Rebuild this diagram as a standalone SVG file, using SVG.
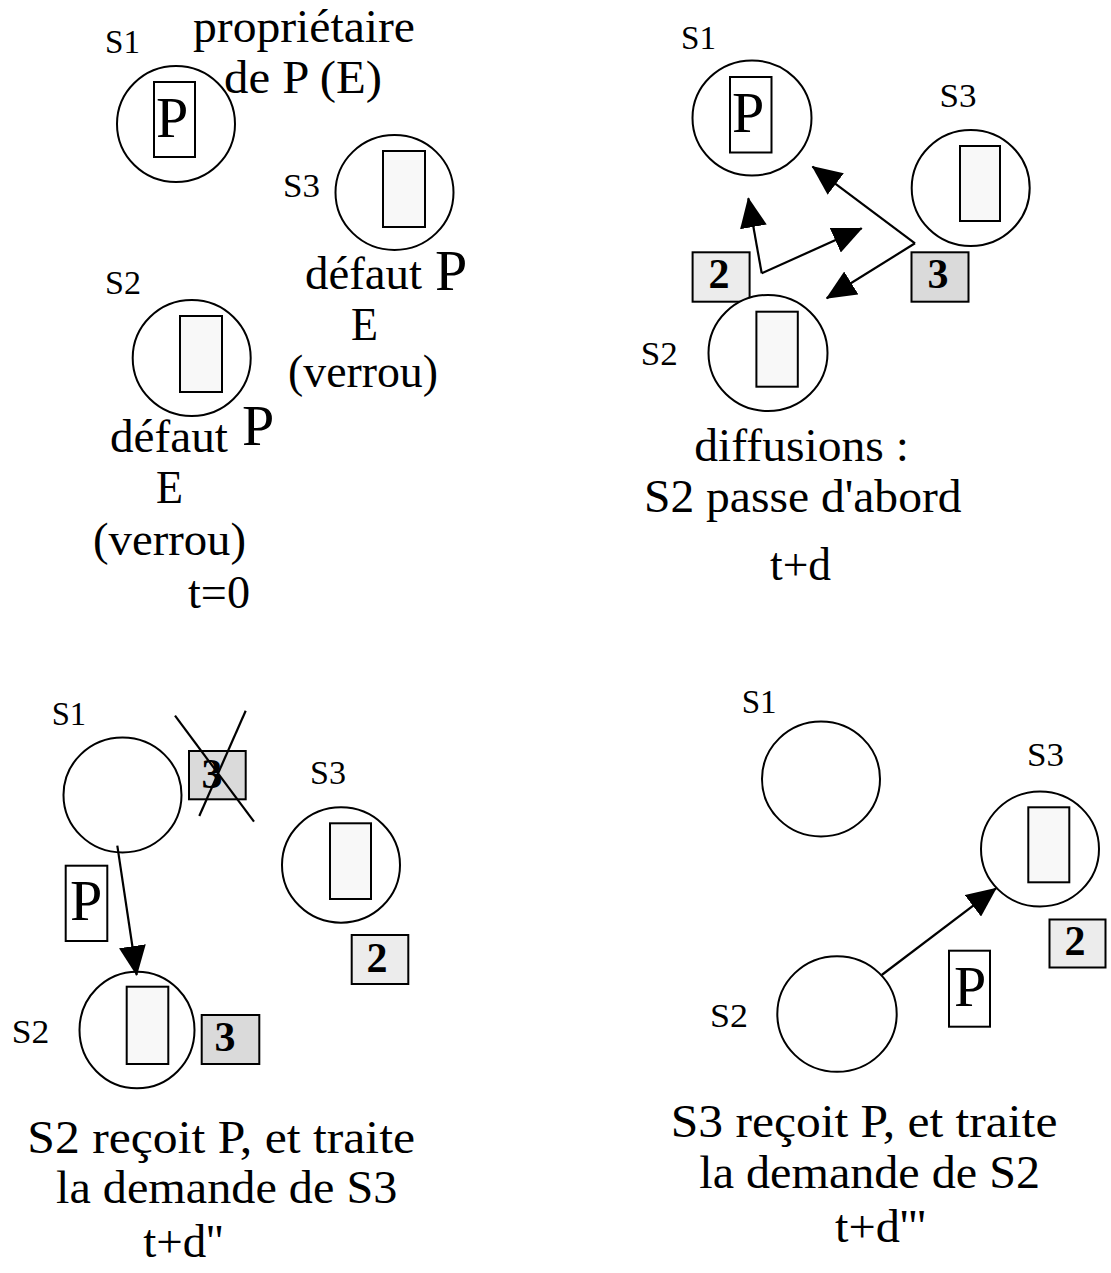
<svg xmlns="http://www.w3.org/2000/svg" width="1111" height="1273" viewBox="0 0 1111 1273">
<style>
  text { font-family: "Liberation Serif", "Times New Roman", serif; fill: #000; }
  .lbl { font-size: 34px; }
  .big { font-size: 46px; }
  .P { font-size: 58px; }
  .num { font-size: 42px; font-weight: bold; text-anchor: middle; }
  .site { fill: #fff; stroke: #000; stroke-width: 2; }
  .slot { fill: #f8f8f8; stroke: #000; stroke-width: 2; }
  .pbox { fill: #fff; stroke: #000; stroke-width: 2; }
  .req2 { fill: #ececec; stroke: #000; stroke-width: 2; }
  .req3 { fill: #dadada; stroke: #000; stroke-width: 2; }
  .conn { stroke: #000; stroke-width: 2.2; fill: none; }
</style>
<defs>
  <marker id="ah" markerUnits="userSpaceOnUse" markerWidth="30" markerHeight="27" refX="29" refY="13.5" orient="auto">
    <path d="M0,0 L30,13.5 L0,27 z" fill="#000"/>
  </marker>
</defs>
<rect width="1111" height="1273" fill="#fff"/>

<!-- Panel 1: t=0 -->
<g id="p1-s1">
  <text class="lbl" x="105" y="53" textLength="35" lengthAdjust="spacingAndGlyphs">S1</text>
  <ellipse class="site" cx="176" cy="124" rx="59" ry="58"/>
  <rect class="pbox" x="154" y="82" width="41" height="75"/>
  <text class="P" x="156" y="137">P</text>
</g>
<g id="p1-owner-label">
  <text class="big" x="193" y="42" textLength="222" lengthAdjust="spacingAndGlyphs">propriétaire</text>
  <text class="big" x="224" y="93" textLength="158" lengthAdjust="spacingAndGlyphs">de P (E)</text>
</g>
<g id="p1-s3">
  <text class="lbl" x="283" y="197" textLength="37" lengthAdjust="spacingAndGlyphs">S3</text>
  <ellipse class="site" cx="394.5" cy="192.5" rx="59" ry="57.5"/>
  <rect class="slot" x="383" y="151" width="42" height="76"/>
  <text class="big" x="305" y="289" textLength="117" lengthAdjust="spacingAndGlyphs">défaut</text>
  <text class="P" x="435" y="290">P</text>
  <text class="big" x="351" y="340" textLength="27" lengthAdjust="spacingAndGlyphs">E</text>
  <text class="big" x="288" y="387" textLength="150" lengthAdjust="spacingAndGlyphs">(verrou)</text>
</g>
<g id="p1-s2">
  <text class="lbl" x="105" y="294" textLength="36" lengthAdjust="spacingAndGlyphs">S2</text>
  <ellipse class="site" cx="191.7" cy="358" rx="59" ry="58"/>
  <rect class="slot" x="180" y="316" width="42" height="76"/>
  <text class="big" x="110" y="452" textLength="118" lengthAdjust="spacingAndGlyphs">défaut</text>
  <text class="P" x="242" y="445">P</text>
  <text class="big" x="156" y="503" textLength="27" lengthAdjust="spacingAndGlyphs">E</text>
  <text class="big" x="93" y="555" textLength="153" lengthAdjust="spacingAndGlyphs">(verrou)</text>
  <text class="big" x="188" y="608" textLength="62" lengthAdjust="spacingAndGlyphs">t=0</text>
</g>

<!-- Panel 2: t+d -->
<g id="p2-s1">
  <text class="lbl" x="681" y="49" textLength="35" lengthAdjust="spacingAndGlyphs">S1</text>
  <ellipse class="site" cx="752" cy="118" rx="59.5" ry="57.5"/>
  <rect class="pbox" x="730" y="77" width="41.5" height="75.5"/>
  <text class="P" x="732" y="132">P</text>
</g>
<g id="p2-s3">
  <text class="lbl" x="939.5" y="107" textLength="37" lengthAdjust="spacingAndGlyphs">S3</text>
  <ellipse class="site" cx="970.7" cy="188" rx="59" ry="58"/>
  <rect class="slot" x="960" y="146" width="40" height="75"/>
</g>
<g id="p2-req2">
  <rect class="req2" x="692.6" y="252.3" width="57" height="49.4"/>
  <text class="num" x="719" y="288">2</text>
</g>
<g id="p2-req3">
  <rect class="req3" x="911.5" y="252.3" width="57" height="49.4"/>
  <text class="num" x="938" y="288">3</text>
</g>
<g id="p2-s2">
  <text class="lbl" x="640.7" y="365" textLength="37" lengthAdjust="spacingAndGlyphs">S2</text>
  <ellipse class="site" cx="768" cy="353" rx="59.5" ry="58"/>
  <rect class="slot" x="756.4" y="311.7" width="41.4" height="75"/>
</g>
<g id="p2-caption">
  <text class="big" x="694.3" y="461" textLength="214.7" lengthAdjust="spacingAndGlyphs">diffusions :</text>
  <text class="big" x="644" y="512" textLength="317.5" lengthAdjust="spacingAndGlyphs">S2 passe d'abord</text>
  <text class="big" x="770" y="580" textLength="61" lengthAdjust="spacingAndGlyphs">t+d</text>
</g>

<!-- Panel 3: t+d'' -->
<g id="p3-s1">
  <text class="lbl" x="51.7" y="725" textLength="34.5" lengthAdjust="spacingAndGlyphs">S1</text>
  <ellipse class="site" cx="122.5" cy="795" rx="59" ry="57.5"/>
</g>
<g id="p3-req3-cancelled">
  <rect class="req3" x="189" y="751" width="56.7" height="48.3"/>
  <text class="num" x="212" y="788">3</text>
  <line class="conn" x1="175" y1="715.7" x2="254" y2="821.7"/>
  <line class="conn" x1="245.7" y1="710.7" x2="199.3" y2="816"/>
</g>
<g id="p3-s3">
  <text class="lbl" x="310" y="784" textLength="36" lengthAdjust="spacingAndGlyphs">S3</text>
  <ellipse class="site" cx="341" cy="865" rx="59" ry="57.7"/>
  <rect class="slot" x="330" y="823.3" width="41" height="75.7"/>
</g>
<g id="p3-token">
  <rect class="pbox" x="65.7" y="865.7" width="41.6" height="75.3"/>
  <text class="P" x="70" y="920">P</text>
</g>
<g id="p3-req2">
  <rect class="req2" x="351.7" y="935" width="56.6" height="49"/>
  <text class="num" x="377" y="971.7">2</text>
</g>
<g id="p3-s2">
  <text class="lbl" x="11.7" y="1043" textLength="37.6" lengthAdjust="spacingAndGlyphs">S2</text>
  <ellipse class="site" cx="137" cy="1030" rx="57.5" ry="58.3"/>
  <rect class="slot" x="126.7" y="986.7" width="41.6" height="77.3"/>
</g>
<g id="p3-req3">
  <rect class="req3" x="201.7" y="1015" width="57.6" height="49"/>
  <text class="num" x="225" y="1051">3</text>
</g>
<g id="p3-caption">
  <text class="big" x="27.3" y="1153" textLength="387.7" lengthAdjust="spacingAndGlyphs">S2 reçoit P, et traite</text>
  <text class="big" x="56" y="1203" textLength="341.3" lengthAdjust="spacingAndGlyphs">la demande de S3</text>
  <text class="big" x="143.3" y="1257" textLength="80" lengthAdjust="spacingAndGlyphs">t+d''</text>
</g>

<!-- Panel 4: t+d''' -->
<g id="p4-s1">
  <text class="lbl" x="741.7" y="713" textLength="35" lengthAdjust="spacingAndGlyphs">S1</text>
  <ellipse class="site" cx="821" cy="779" rx="59" ry="57.5"/>
</g>
<g id="p4-s3">
  <text class="lbl" x="1027" y="766" textLength="37" lengthAdjust="spacingAndGlyphs">S3</text>
  <ellipse class="site" cx="1040" cy="849" rx="59" ry="57.5"/>
  <rect class="slot" x="1028.3" y="807.3" width="41" height="75"/>
</g>
<g id="p4-req2">
  <rect class="req2" x="1049.5" y="919.5" width="56" height="48"/>
  <text class="num" x="1075" y="955">2</text>
</g>
<g id="p4-token">
  <rect class="pbox" x="949" y="950.7" width="41" height="76"/>
  <text class="P" x="954" y="1006">P</text>
</g>
<g id="p4-s2">
  <text class="lbl" x="710" y="1027" textLength="38" lengthAdjust="spacingAndGlyphs">S2</text>
  <ellipse class="site" cx="837" cy="1014" rx="59.7" ry="57.8"/>
</g>
<g id="p4-caption">
  <text class="big" x="670.7" y="1137" textLength="386.7" lengthAdjust="spacingAndGlyphs">S3 reçoit P, et traite</text>
  <text class="big" x="699.3" y="1188" textLength="340.7" lengthAdjust="spacingAndGlyphs">la demande de S2</text>
  <text class="big" x="835" y="1242" textLength="91" lengthAdjust="spacingAndGlyphs">t+d'''</text>
</g>

<!-- Connectors -->
<g id="connectors">
  <line class="conn" x1="761.7" y1="273.3" x2="748.3" y2="198.3" marker-end="url(#ah)"/>
  <line class="conn" x1="761.7" y1="273.3" x2="861.7" y2="228.3" marker-end="url(#ah)"/>
  <line class="conn" x1="915" y1="243.3" x2="812.5" y2="166.7" marker-end="url(#ah)"/>
  <line class="conn" x1="915" y1="243.3" x2="826.7" y2="298.3" marker-end="url(#ah)"/>
  <line class="conn" x1="117.3" y1="845.7" x2="136.7" y2="975" marker-end="url(#ah)"/>
  <line class="conn" x1="881.7" y1="975" x2="996" y2="888.3" marker-end="url(#ah)"/>
</g>
</svg>
